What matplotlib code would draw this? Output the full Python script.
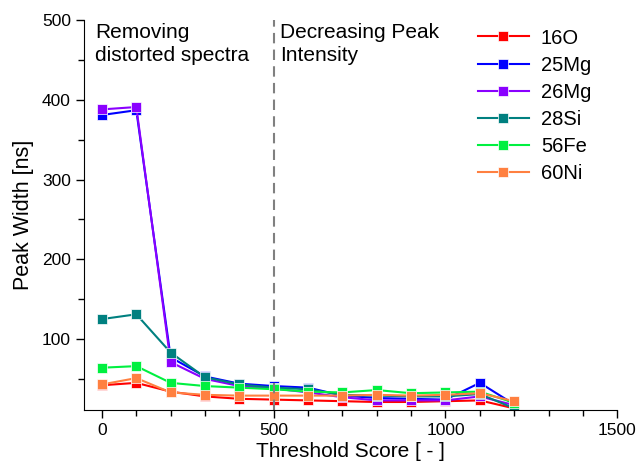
import matplotlib
matplotlib.use("Agg")
import matplotlib.pyplot as plt
from matplotlib.ticker import MultipleLocator

plt.rcParams['font.family'] = ['Liberation Sans', 'DejaVu Sans']

# threshold scores and peak widths
threshold = [0, 100, 200, 300, 400, 500, 600, 700, 800, 900, 1000, 1100, 1200]
o16 = [42, 45, 34, 28, 25, 24, 23, 22, 21, 21, 22, 23, 13]
mg25 = [381, 387, 77, 53, 44, 41, 39, 29, 26, 25, 24, 45, 18]
mg26 = [388, 391, 71, 50, 41, 38, 33, 27, 23, 23, 23, 28, 17]
si28 = [125, 131, 83, 52, 43, 39, 37, 30, 29, 28, 28, 31, 13]
fe56 = [64, 66, 45, 41, 39, 37, 34, 33, 36, 32, 33, 34, 20]
ni60 = [43, 51, 33, 30, 29, 29, 29, 29, 30, 29, 30, 32, 22]

series = [("16O", o16, "#ff0000"),
          ("25Mg", mg25, "#0000ff"),
          ("26Mg", mg26, "#8a00ff"),
          ("28Si", si28, "#008080"),
          ("56Fe", fe56, "#00f040"),
          ("60Ni", ni60, "#ff8040")]

fig = plt.figure(figsize=(6.37, 4.68), dpi=100)
ax = fig.add_axes([0.132, 0.124, 0.837, 0.833])

for name, vals, col in series:
    ax.plot(threshold, vals, color=col, lw=1.5, marker='s', ms=7,
            markeredgecolor='white', markeredgewidth=0.5, label=name)

ax.axvline(500, color='gray', ls=(0, (5, 3)), lw=1.5)

ax.text(-20, 496, "Removing\ndistorted spectra", fontsize=15, va='top', ha='left',
        linespacing=1.25)
ax.text(518, 496, "Decreasing Peak\nIntensity", fontsize=15, va='top', ha='left',
        linespacing=1.25)

ax.set_xlim(-52, 1500)
ax.set_ylim(11, 500)
ax.xaxis.set_major_locator(MultipleLocator(500))
ax.xaxis.set_minor_locator(MultipleLocator(100))
ax.yaxis.set_major_locator(MultipleLocator(100))
ax.yaxis.set_minor_locator(MultipleLocator(50))
ax.tick_params(which='major', direction='out', length=6, width=1, labelsize=12.5)
ax.tick_params(which='minor', direction='out', length=4, width=1)
ax.spines['top'].set_visible(False)
ax.spines['right'].set_visible(False)
ax.set_xlabel("Threshold Score [ - ]", fontsize=15, labelpad=3)
ax.set_ylabel("Peak Width [ns]", fontsize=15.5, labelpad=6)

ax.legend(loc='upper right', bbox_to_anchor=(0.985, 1.025), frameon=False,
          fontsize=14.5, handlelength=2.5, handletextpad=0.6, labelspacing=0.4)

fig.savefig("out.png", dpi=100)
